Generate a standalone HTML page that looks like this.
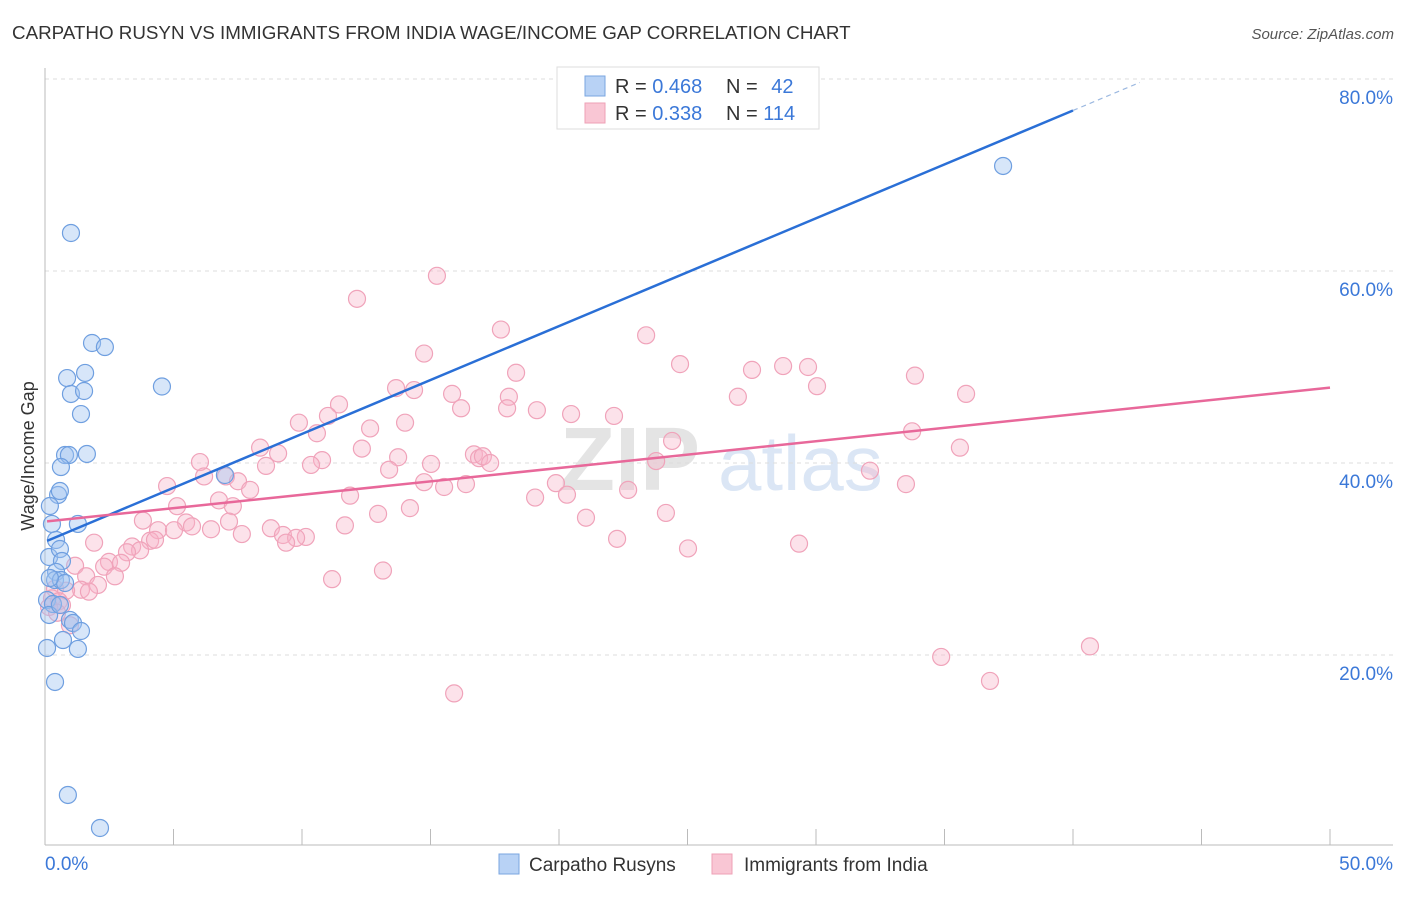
<!DOCTYPE html>
<html><head><meta charset="utf-8">
<style>
body{margin:0;background:#fff;font-family:"Liberation Sans",sans-serif;}
svg text{font-family:"Liberation Sans",sans-serif;}
</style></head>
<body>
<svg id="chart" width="1406" height="892" viewBox="0 0 1406 892" xmlns="http://www.w3.org/2000/svg">
<text x="12" y="39" font-size="18.8" fill="#333">CARPATHO RUSYN VS IMMIGRANTS FROM INDIA WAGE/INCOME GAP CORRELATION CHART</text>
<text x="1394" y="39" font-size="15" fill="#555" text-anchor="end" font-style="italic">Source: ZipAtlas.com</text>
<g>
<text x="560" y="490" font-size="90" fill="#e4e4e4" font-family="Liberation Serif" font-weight="bold">ZIP</text>
<text x="718" y="490" font-size="78" fill="#dbe6f5">atlas</text>
</g>
<g id="grid"></g>
<g id="axes"></g>
<g id="pts"></g>
<g id="lines"></g>
<text transform="translate(34,456) rotate(-90)" font-size="18" fill="#333" text-anchor="middle">Wage/Income Gap</text>
<g>
<rect x="557" y="67" width="262" height="62" fill="#fff" stroke="#ddd"/>
<rect x="585" y="76" width="20" height="20" fill="#b8d2f5" stroke="#7aa6e0"/>
<rect x="585" y="103" width="20" height="20" fill="#f9c6d4" stroke="#eea0b6"/>
<text x="615" y="93" font-size="20" fill="#333">R = <tspan fill="#3b78d8">0.468</tspan></text>
<text x="726" y="93" font-size="20" fill="#333">N = <tspan fill="#3b78d8" dx="8">42</tspan></text>
<text x="615" y="120" font-size="20" fill="#333">R = <tspan fill="#3b78d8">0.338</tspan></text>
<text x="726" y="120" font-size="20" fill="#333">N = <tspan fill="#3b78d8">114</tspan></text>
</g>
<g>
<rect x="499" y="854" width="20" height="20" fill="#b8d2f5" stroke="#7aa6e0"/>
<text x="529" y="871" font-size="19" fill="#333">Carpatho Rusyns</text>
<rect x="712" y="854" width="20" height="20" fill="#f9c6d4" stroke="#eea0b6"/>
<text x="744" y="871" font-size="19" fill="#333">Immigrants from India</text>
</g>
</svg>
<script>
const yTicks=[20,40,60,80];
const yTickLabels=["20.0%","40.0%","60.0%","80.0%"];
const xTicks=[0,5,10,15,20,25,30,35,40,45,50];
const blueX=[1.01,37.28,1.83,2.33,4.55,0.86,1.56,1.01,1.52,1.40,0.78,0.93,1.63,0.62,0.51,0.58,0.19,0.27,1.28,0.43,0.16,0.58,0.66,0.43,0.39,0.62,0.78,0.19,0.08,0.31,0.97,1.09,1.40,0.70,0.16,0.08,1.28,0.39,0.89,2.14,7.00,0.58];
const blueY=[63.96,70.94,52.5,52.08,47.97,48.85,49.38,47.19,47.5,45.1,40.83,40.83,40.94,39.58,36.67,37.08,35.52,33.65,33.65,31.98,30.21,31.04,29.79,28.65,27.81,27.81,27.5,28.02,25.73,25.31,23.65,23.33,22.5,21.56,24.17,20.73,20.63,17.19,5.42,1.98,38.75,25.21];
const pinkX=[15.25,12.14,17.74,23.39,14.75,24.71,28.72,29.69,27.51,33.85,18.33,30.04,13.66,14.36,15.84,18.05,26.96,35.84,11.44,16.19,17.98,19.14,20.47,22.14,11.01,9.88,14.01,12.65,10.58,33.74,24.40,35.60,12.33,8.37,9.07,16.69,16.89,17.04,13.74,10.78,6.03,8.60,15.02,17.32,10.35,23.78,13.39,7.04,6.19,7.51,32.10,7.98,14.75,16.38,19.88,4.75,15.53,33.50,11.87,6.77,20.31,19.07,22.69,5.14,7.31,14.20,12.96,24.16,21.05,3.81,5.49,7.16,11.67,5.72,4.40,6.46,5.02,8.79,7.66,9.26,10.15,9.77,9.38,22.26,4.09,4.28,1.91,25.02,29.34,3.39,3.70,3.19,2.49,2.96,2.30,1.17,1.60,2.72,11.17,13.15,2.06,1.40,1.71,0.39,0.82,0.27,0.54,0.66,0.16,0.47,0.97,40.66,34.87,36.77,15.92];
const pinkY=[59.5,57.1,53.9,53.3,51.4,50.3,50.1,50.0,49.7,49.1,49.4,48.0,47.8,47.6,47.2,46.9,46.9,47.2,46.1,45.7,45.7,45.5,45.1,44.9,44.9,44.2,44.2,43.6,43.1,43.3,42.3,41.6,41.5,41.6,41.0,40.9,40.5,40.7,40.6,40.3,40.1,39.7,39.9,40.0,39.8,40.2,39.3,38.6,38.6,38.1,39.2,37.2,38.0,37.8,37.9,37.6,37.5,37.8,36.6,36.1,36.7,36.4,37.2,35.5,35.5,35.3,34.7,34.8,34.3,34.0,33.8,33.9,33.5,33.4,33.0,33.1,33.0,33.2,32.6,32.5,32.3,32.2,31.7,32.1,31.9,32.0,31.7,31.1,31.6,31.3,30.9,30.7,29.7,29.6,29.2,29.3,28.2,28.2,27.9,28.8,27.3,26.8,26.6,26.9,26.7,25.9,25.6,25.2,25.0,24.4,23.1,20.9,19.8,17.3,16.0];
const blueTrend=[31.8,1.123];
const pinkTrend=[33.9,0.279];

const NS="http://www.w3.org/2000/svg";
const xs=v=>45+v/50*1285;
const ys=v=>847-v*9.6;
function mk(tag,attrs,parent){const e=document.createElementNS(NS,tag);for(const k in attrs)e.setAttribute(k,attrs[k]);parent.appendChild(e);return e;}
const grid=document.getElementById('grid'),axes=document.getElementById('axes'),pts=document.getElementById('pts'),lines=document.getElementById('lines');
yTicks.forEach((t,i)=>{
  const l=mk('line',{x1:45,x2:1393,y1:ys(t),y2:ys(t),stroke:'#ddd','stroke-dasharray':'4,4'},grid);
  
  
  const tx=mk('text',{x:1393,y:ys(t)+25,'font-size':19,fill:'#3b78d8','text-anchor':'end'},axes);
  tx.textContent=yTickLabels[i];
  
  
});
mk('line',{x1:45,x2:45,y1:68,y2:845,stroke:'#bbb'},axes);
mk('line',{x1:45,x2:1393,y1:845,y2:845,stroke:'#bbb'},axes);
xTicks.forEach(t=>{
  const l=mk('line',{x1:xs(t),x2:xs(t),y1:829,y2:845,stroke:'#bbb'},axes);
  
  
});
const x0=mk('text',{x:45,y:870,'font-size':19,fill:'#3b78d8'},axes);x0.textContent="0.0%";

const x1=mk('text',{x:1393,y:870,'font-size':19,fill:'#3b78d8','text-anchor':'end'},axes);x1.textContent="50.0%";

pinkX.forEach((v,i)=>{
  const c=mk('circle',{cx:xs(v),cy:ys(pinkY[i]),r:8.5,fill:'rgba(248,180,200,0.38)',stroke:'#f0a3ba','stroke-width':1.2},pts);
  
  
});
blueX.forEach((v,i)=>{
  const c=mk('circle',{cx:xs(v),cy:ys(blueY[i]),r:8.5,fill:'rgba(160,195,240,0.42)',stroke:'#6f9fe0','stroke-width':1.2},pts);
  
  
});
const bl=mk('line',{x1:xs(0.08),y1:ys(blueTrend[0]+blueTrend[1]*0.08),x2:xs(40),y2:ys(blueTrend[0]+blueTrend[1]*40),stroke:'#2a6fd6','stroke-width':2.5},lines);

const bd=mk('line',{x1:xs(40),y1:ys(blueTrend[0]+blueTrend[1]*40),x2:xs(42.6),y2:ys(blueTrend[0]+blueTrend[1]*42.6),stroke:'#9bb8e0','stroke-width':1.2,'stroke-dasharray':'5,4'},lines);

const pl=mk('line',{x1:xs(0.08),y1:ys(pinkTrend[0]+pinkTrend[1]*0.08),x2:xs(50),y2:ys(pinkTrend[0]+pinkTrend[1]*50),stroke:'#e8689a','stroke-width':2.5},lines);

</script>
</body></html>
